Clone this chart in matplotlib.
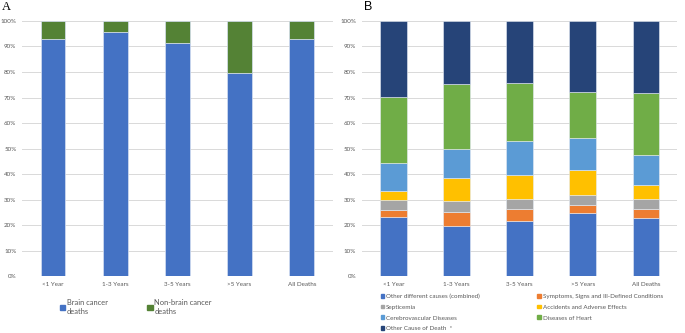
import matplotlib
matplotlib.use("Agg")
import matplotlib.pyplot as plt
from matplotlib.patches import Patch
import numpy as np

# categories shared by both panels
categories = ["<1 Year", "1-3 Years", "3-5 Years", ">5 Years", "All Deaths"]

# Panel A: share of deaths (%)
brain_cancer = [93.1, 95.6, 91.4, 79.8, 92.9]
non_brain_cancer = [100 - v for v in brain_cancer]

# Panel B: causes of non-brain-cancer deaths (%)
other_different = [23.1, 19.5, 21.4, 24.9, 22.6]
symptoms = [2.9, 5.8, 4.8, 2.8, 3.5]
septicemia = [3.9, 4.1, 4.0, 4.2, 4.1]
accidents = [3.3, 9.0, 9.6, 9.7, 5.6]
cerebrovascular = [11.2, 11.3, 13.1, 12.4, 11.7]
heart = [25.7, 25.6, 22.7, 18.1, 24.2]
other_cause = [29.9, 24.7, 24.4, 27.9, 28.3]

FONT = "Lato"
TICK_COLOR = "#595959"
GRID_COLOR = "#D9D9D9"
FS = 4.5


def style_axis(ax):
    ax.set_ylim(0, 100)
    ax.set_xlim(-0.5, len(categories) - 0.5)
    ax.set_yticks(np.arange(0, 101, 10))
    ax.set_yticklabels([f"{v}%" for v in range(0, 101, 10)])
    ax.set_xticks(range(len(categories)))
    ax.set_xticklabels(categories)
    ax.tick_params(length=0, labelsize=FS, colors=TICK_COLOR, pad=4)
    for lab in ax.get_xticklabels() + ax.get_yticklabels():
        lab.set_family(FONT)
    for s in ax.spines.values():
        s.set_visible(False)
    ax.yaxis.grid(True, color=GRID_COLOR, linewidth=0.7)
    ax.set_axisbelow(True)


fig = plt.figure(figsize=(6.85, 3.33), dpi=100)

# ---- Panel A ----
axA = fig.add_axes([0.032, 0.171, 0.454, 0.766])
x = np.arange(len(categories))
w = 0.4
axA.bar(x, brain_cancer, w, color="#4472C4", edgecolor="#D6E0F2", linewidth=0.5)
axA.bar(x, non_brain_cancer, w, bottom=brain_cancer, color="#548235",
        edgecolor="#D6E0F2", linewidth=0.5)
style_axis(axA)
fig.text(0.003, 0.997, "A", fontsize=9, family="Liberation Serif", va="top")

handlesA = [Patch(color="#4472C4", label="Brain cancer\ndeaths"),
            Patch(color="#548235", label="Non-brain cancer\ndeaths")]
fig.legend(handles=handlesA, loc="upper left", bbox_to_anchor=(0.082, 0.112),
           ncol=2, frameon=False, prop={"family": FONT, "size": 5.4},
           handlelength=0.7, handleheight=0.7, handletextpad=0.2,
           columnspacing=5.3, labelcolor=TICK_COLOR, borderpad=0)

# ---- Panel B ----
axB = fig.add_axes([0.528, 0.171, 0.461, 0.766])
series = [
    ("Other different causes (combined)", other_different, "#4472C4"),
    ("Symptoms, Signs and Ill-Defined Conditions", symptoms, "#ED7D31"),
    ("Septicemia", septicemia, "#A5A5A5"),
    ("Accidents and Adverse Effects", accidents, "#FFC000"),
    ("Cerebrovascular Diseases", cerebrovascular, "#5B9BD5"),
    ("Diseases of Heart", heart, "#70AD47"),
    ("Other Cause of Death  *", other_cause, "#264478"),
]
w = 0.42
bottom = np.zeros(len(categories))
patches = {}
for name, vals, col in series:
    axB.bar(x, vals, w, bottom=bottom, color=col, edgecolor="#E6ECF5", linewidth=0.4)
    bottom += np.array(vals)
    patches[name] = Patch(color=col, label=name)
style_axis(axB)
fig.text(0.532, 0.997, "B", fontsize=9, family="Liberation Sans", va="top")

# legend read row by row, matplotlib fills columns first
order = [0, 2, 4, 6, 1, 3, 5]
handlesB = [patches[series[i][0]] for i in order]
fig.legend(handles=handlesB, loc="upper left", bbox_to_anchor=(0.551, 0.128),
           ncol=2, frameon=False, prop={"family": FONT, "size": FS},
           handlelength=0.6, handleheight=0.6, handletextpad=0.3,
           columnspacing=9.2, labelspacing=0.9, labelcolor=TICK_COLOR,
           borderpad=0)

fig.savefig("out.png", dpi=100)
